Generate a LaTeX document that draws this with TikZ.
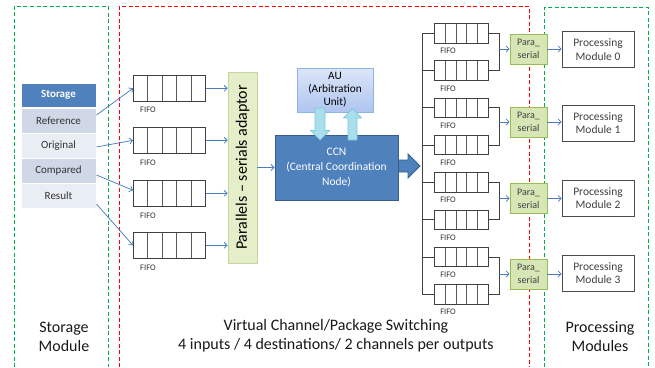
\documentclass[tikz,border=0pt]{standalone}
\usepackage{fontspec}
\setmainfont{Carlito}
\usetikzlibrary{arrows.meta,calc}

\definecolor{accblue}{HTML}{4F81BD}
\definecolor{accblueD}{HTML}{385D8A}
\definecolor{rowA}{HTML}{D0D8E8}
\definecolor{rowB}{HTML}{E9EDF4}
\definecolor{linkblue}{HTML}{4A7EBB}
\definecolor{frameG}{HTML}{00B050}
\definecolor{frameR}{HTML}{FF0000}
\definecolor{txtgray}{HTML}{404040}
\definecolor{adaptfill}{HTML}{E4EFC9}
\definecolor{adaptdraw}{HTML}{C3D69B}
\definecolor{psfill}{HTML}{D7E6B5}
\definecolor{psdraw}{HTML}{9BBB59}
\definecolor{auTop}{HTML}{DCE6F8}
\definecolor{auBot}{HTML}{AFC4F0}
\definecolor{auDraw}{HTML}{8EB4E3}
\definecolor{cyanEdge}{HTML}{A9DEEC}
\definecolor{cyanMid}{HTML}{E4F6FB}
\definecolor{cyanDraw}{HTML}{7FC6DA}

\tikzset{
  frame/.style={line width=1pt, dash pattern=on 4pt off 2.5pt},
  fifocell/.style={draw=black!75, line width=0.6pt, fill=white, inner sep=0pt,
    path picture={\foreach \k in {1,2,3,4}{
      \draw[black!65, line width=0.6pt]
        ($(path picture bounding box.south west)!\k/5!(path picture bounding box.south east)$) --
        ($(path picture bounding box.north west)!\k/5!(path picture bounding box.north east)$);}}},
  fifoL/.style={fifocell, minimum width=72pt, minimum height=26pt, anchor=north west},
  fifoR/.style={fifocell, minimum width=54pt, minimum height=19.5pt, anchor=north west},
  fifolbl/.style={font=\fontsize{8.5}{9}\selectfont, text=black!80, inner sep=0pt},
  tabhead/.style={fill=accblue, draw=white, line width=1pt, minimum width=75pt, minimum height=24pt,
    inner sep=0pt, text=white, font=\fontsize{11}{13}\selectfont\bfseries},
  tabrow/.style={draw=white, line width=1pt, minimum width=75pt, minimum height=25pt,
    inner sep=0pt, text=black!80, font=\fontsize{11}{13}\selectfont},
  link/.style={draw=linkblue, line width=0.75pt, -{Straight Barb[length=3pt,width=6pt]}},
  wire/.style={draw=black!75, line width=0.7pt},
  pserial/.style={fill=psfill, draw=psdraw, line width=0.8pt, minimum width=37pt, minimum height=30pt,
    inner sep=0pt, align=center, font=\fontsize{10}{13}\selectfont, text=txtgray},
  procbox/.style={draw=black!70, line width=0.8pt, fill=white, minimum width=72pt, minimum height=36pt,
    inner sep=0pt, align=center, font=\fontsize{11.5}{13.5}\selectfont, text=txtgray},
  caption/.style={align=center, font=\fontsize{16}{19}\selectfont, text=black!90, inner sep=0pt},
  blockcyan/.style={left color=cyanEdge, middle color=cyanMid, right color=cyanEdge,
    draw=cyanDraw, line width=0.7pt, line join=miter},
}

\begin{document}
\begin{tikzpicture}[x=1pt,y=-1pt]
\useasboundingbox (0,0) rectangle (655,367);

% module frames (open at the bottom)
\draw[frame, frameG] (14,367) -- (14,6) -- (108,6) -- (108,367);
\draw[frame, frameR] (119,367) -- (119,6) -- (529,6) -- (529,367);
\draw[frame, frameG] (544,367) -- (544,7) -- (648,7) -- (648,367);

% storage table
\node[tabhead] (sh) at (58.5,95) {Storage};
\node[tabrow, fill=rowA] (r1) at (58.5,120.5) {Reference};
\node[tabrow, fill=rowB] (r2) at (58.5,145.5) {Original};
\node[tabrow, fill=rowA] (r3) at (58.5,170.5) {Compared};
\node[tabrow, fill=rowB] (r4) at (58.5,195.5) {Result};

% input FIFOs
\node[fifoL] (f1) at (133,75) {};
\node[fifoL] (f2) at (133,127) {};
\node[fifoL] (f3) at (133,180) {};
\node[fifoL] (f4) at (133,232) {};
\node[fifolbl] (fl1) at (148,110) {FIFO};
\node[fifolbl] (fl2) at (148,163) {FIFO};
\node[fifolbl] (fl3) at (148,215.5) {FIFO};
\node[fifolbl] (fl4) at (148,268) {FIFO};

\draw[link] ($(r1.east)+(0,-5.5)$) -- (f1.west);
\draw[link] ($(r2.east)+(0,1.5)$) -- (f2.west);
\draw[link] ($(r3.east)+(0,4.5)$) -- ($(f3.west)+(0,-3)$);
\draw[link] ($(r4.east)+(0,8.5)$) -- (f4.west);

% parallel to serial adaptor
\node[fill=adaptfill, draw=adaptdraw, line width=0.8pt, rotate=90, minimum width=191pt,
      minimum height=29pt, inner sep=0pt, font=\fontsize{16}{19}\selectfont] (ad) at (242.5,167.5)
      {Parallels – serials adaptor};
\foreach \i in {1,2,3,4}{
  \draw[link] (f\i.east) -- (f\i.east -| ad.north);
}

% coordination node and arbitration unit
\node[fill=accblue, draw=accblueD, line width=1pt, minimum width=123pt, minimum height=65pt,
      inner sep=0pt, align=center, text=white, font=\fontsize{11.5}{15}\selectfont] (ccn) at (336.5,167.5)
      {CCN\\(Central Coordination\\Node)};
\node[top color=auTop, bottom color=auBot, draw=auDraw, line width=0.8pt, minimum width=76pt,
      minimum height=44pt, inner sep=0pt, align=center, font=\fontsize{11.3}{13}\selectfont] (au) at (335,90)
      {AU\\(Arbitration\\Unit)};
\draw[link] (ad.south |- ccn.west) -- (ccn.west);

% block arrows between AU and CCN
\draw[blockcyan] (315,108) -- (325,108) -- (325,130.5) -- (329.5,130.5) -- (320,140)
  -- (310.5,130.5) -- (315,130.5) -- cycle;
\draw[blockcyan] (348,140) -- (357,140) -- (357,118) -- (361.5,118) -- (352.5,108.5)
  -- (343.5,118) -- (348,118) -- cycle;

% output block arrow from CCN to the distribution bus
\draw[fill=accblue, draw=accblueD, line width=0.8pt, line join=miter]
  (ccn.east |- 0,160) -- (408,160) -- (408,154) -- (420,166) -- (408,178) -- (408,172)
  -- (ccn.east |- 0,172) -- cycle;

% output FIFOs
\coordinate (bus) at (422,0);
\coordinate (brk) at (499,0);
\foreach \i in {0,...,7}{
  \node[fifoR] (g\i) at (434,{23+37.3*\i}) {};
  \node[fifolbl] (gl\i) at (448,{23+37.3*\i+28}) {FIFO};
}
\draw[wire] (g0.west -| bus) -- (g7.west -| bus);
\foreach \i in {0,...,7}{
  \draw[wire] (g\i.west -| bus) -- (g\i.west);
}

% para-serial converters and processing modules
\foreach \p/\py/\my in {0/49/49.5, 1/122/123, 2/198.5/198, 3/274/273}{
  \node[pserial] (ps\p) at (528.5,\py) {Para\_\\serial};
  \node[procbox] (pm\p) at (598,\my) {Processing\\Module \p};
}
\foreach \p in {0,...,3}{
  \pgfmathtruncatemacro\ga{2*\p}
  \pgfmathtruncatemacro\gb{2*\p+1}
  \draw[wire] (g\ga.east) -- (g\ga.east -| brk) -- (g\gb.east -| brk) -- (g\gb.east);
  \draw[link] (ps\p.west -| brk) -- (ps\p.west);
  \draw[link] (ps\p.east) -- (ps\p.east -| pm\p.west);
}

% captions
\node[caption] (capS) at (64,337) {Storage\\Module};
\node[caption] (capV) at (336,336) {Virtual Channel/Package Switching\\4 inputs / 4 destinations/ 2 channels per outputs};
\node[caption] (capP) at (600,337) {Processing\\Modules};
\end{tikzpicture}
\end{document}
